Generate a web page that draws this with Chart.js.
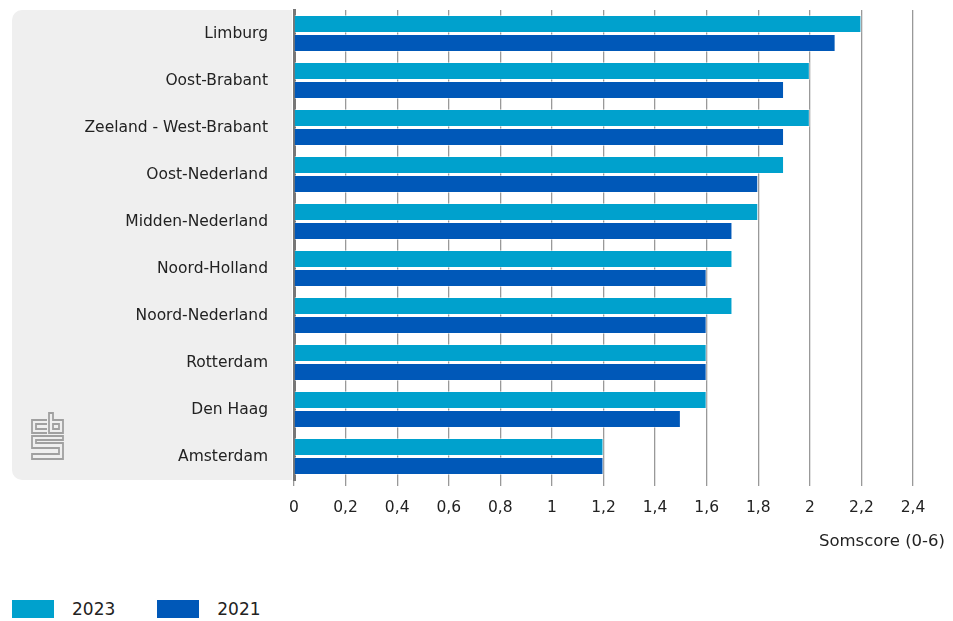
<!DOCTYPE html>
<html><head><meta charset="utf-8">
<script src="https://cdn.jsdelivr.net/npm/chart.js@4"></script>
<style>
html,body{margin:0;padding:0;background:#fff;width:953px;height:621px;overflow:hidden;font-family:"DejaVu Sans",sans-serif;}
#wrap{position:absolute;left:0;top:0;width:953px;height:565px;}
#legend{position:absolute;left:12px;top:599px;display:flex;align-items:center;font-family:"DejaVu Sans",sans-serif;font-size:17px;color:#222;}
.sw{width:42px;height:18px;display:inline-block;margin-right:18px;}
.lt{margin-right:42px;}
</style></head>
<body>
<div id="wrap"><canvas id="c"></canvas></div>
<div id="legend"></div>
<script>
const categories = ["Limburg","Oost-Brabant","Zeeland - West-Brabant","Oost-Nederland","Midden-Nederland","Noord-Holland","Noord-Nederland","Rotterdam","Den Haag","Amsterdam"];
const values2023 = [2.2,2.0,2.0,1.9,1.8,1.7,1.7,1.6,1.6,1.2];
const values2021 = [2.1,1.9,1.9,1.8,1.7,1.6,1.6,1.6,1.5,1.2];
const seriesNames = ["2023","2021"];
const xTickLabels = ["0","0,2","0,4","0,6","0,8","1","1,2","1,4","1,6","1,8","2","2,2","2,4"];
const axisTitle = "Somscore (0-6)";

const colors = ["#00a1cd","#0058b8"];
const FONT = '"DejaVu Sans",sans-serif';

const lg = document.getElementById('legend');
seriesNames.forEach((n,i)=>{
  const s=document.createElement('span');s.className='sw';s.style.background=colors[i];lg.appendChild(s);
  const t=document.createElement('span');t.className='lt';t.textContent=n;lg.appendChild(t);
});

const bgPlugin = {
  id:'bg',
  beforeDraw(chart){
    const ctx=chart.ctx, a=chart.chartArea;
    ctx.save();
    ctx.fillStyle='#efefef';
    const x0=12,y0=a.top,x1=a.left-2,y1=a.bottom,r=10;
    ctx.beginPath();
    ctx.moveTo(x1,y0);ctx.lineTo(x0+r,y0);ctx.arcTo(x0,y0,x0,y0+r,r);
    ctx.lineTo(x0,y1-r);ctx.arcTo(x0,y1,x0+r,y1,r);ctx.lineTo(x1,y1);ctx.closePath();ctx.fill();
    // logo
    ctx.strokeStyle='#a0a0a0';ctx.lineWidth=1.8;
    const L=32,T=413;
    ctx.beginPath();
    ctx.moveTo(L+15,T+7);ctx.lineTo(L,T+7);ctx.lineTo(L,T+20);ctx.lineTo(L+15,T+20);
    ctx.moveTo(L+15,T+11);ctx.lineTo(L+4,T+11);ctx.lineTo(L+4,T+16);ctx.lineTo(L+15,T+16);
    ctx.moveTo(L+17,T);ctx.lineTo(L+17,T+20);ctx.lineTo(L+31,T+20);ctx.lineTo(L+31,T+7);ctx.lineTo(L+21,T+7);ctx.lineTo(L+21,T);ctx.closePath();
    ctx.moveTo(L+21,T+11);ctx.lineTo(L+27,T+11);ctx.lineTo(L+27,T+16);ctx.lineTo(L+21,T+16);ctx.closePath();
    ctx.moveTo(L+31,T+23);ctx.lineTo(L,T+23);ctx.lineTo(L,T+35);ctx.lineTo(L+27,T+35);ctx.lineTo(L+27,T+41);ctx.lineTo(L,T+41);ctx.lineTo(L,T+46);ctx.lineTo(L+31,T+46);ctx.lineTo(L+31,T+30);ctx.lineTo(L+4,T+30);ctx.lineTo(L+4,T+27);ctx.lineTo(L+31,T+27);ctx.closePath();
    ctx.stroke();
    ctx.restore();
  },
  afterDraw(chart){
    const ctx=chart.ctx;
    ctx.save();
    ctx.font='16.5px '+FONT;ctx.fillStyle='#222';ctx.textAlign='right';ctx.textBaseline='middle';
    ctx.fillText(axisTitle,945,542);
    ctx.restore();
  }
};

new Chart(document.getElementById('c'),{
  type:'bar',
  data:{labels:categories,datasets:[
    {label:seriesNames[0],data:values2023,backgroundColor:colors[0],borderColor:'rgba(255,255,255,0.45)',borderWidth:1,categoryPercentage:0.81,barPercentage:0.95},
    {label:seriesNames[1],data:values2021,backgroundColor:colors[1],borderColor:'rgba(255,255,255,0.45)',borderWidth:1,categoryPercentage:0.81,barPercentage:0.95}
  ]},
  options:{
    indexAxis:'y',responsive:true,maintainAspectRatio:false,animation:false,
    layout:{padding:{left:0,right:40,top:10,bottom:0}},
    plugins:{legend:{display:false},tooltip:{enabled:false}},
    scales:{
      x:{min:0,max:2.4,
        ticks:{stepSize:0.2,autoSkip:false,maxRotation:0,padding:13,color:'#222',font:{family:FONT,size:15.5},callback:(v,i)=>xTickLabels[i]},
        grid:{color:'#999',lineWidth:1.3,tickLength:6,drawOnChartArea:true},
        border:{display:false},
        afterFit(s){s.height=85;s.paddingLeft=0;s.paddingRight=0;}
      },
      y:{
        ticks:{padding:26,color:'#222',font:{family:FONT,size:15.5}},
        grid:{display:false,drawTicks:false},
        border:{display:true,color:'#777',width:3},
        afterFit(s){s.width=294;s.paddingTop=0;s.paddingBottom=0;}
      }
    }
  },
  plugins:[bgPlugin]
});
</script>
</body></html>
